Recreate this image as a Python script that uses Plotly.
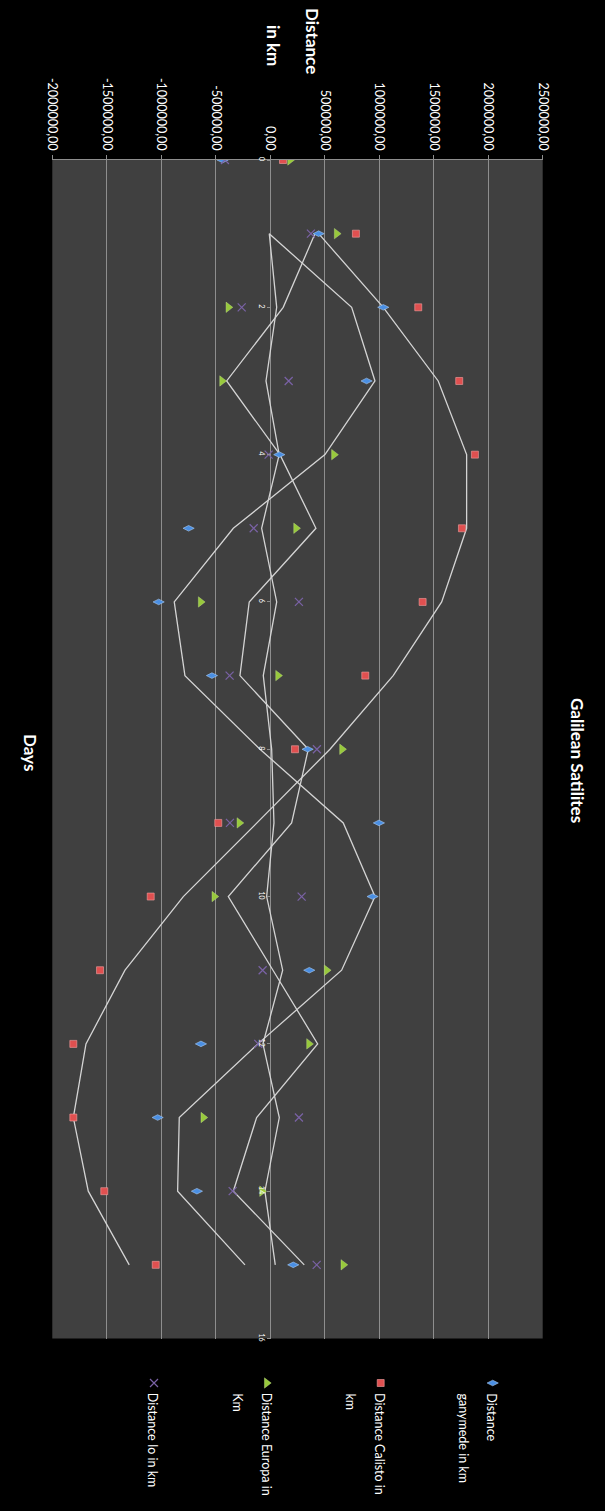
import plotly.graph_objects as go

# ---- data -------------------------------------------------------------
DAYS = list(range(16))
TRACE_DAYS = list(range(1, 16))

GANYMEDE = [-437000, 444000, 1037000, 884000, 83000, -749000, -1024000, -535000,
            343000, 997000, 939000, 358000, -636000, -1033000, -673000, 211000]
CALLISTO = [117000, 786000, 1358000, 1734000, 1878000, 1759000, 1398000, 872000,
            227000, -477000, -1097000, -1562000, -1807000, -1807000, -1523000, -1051000]
EUROPA = [181000, 609000, -385000, -443000, 584000, 236000, -639000, 71000,
          658000, -284000, -514000, 517000, 355000, -615000, -76000, 670000]
IO = [-416000, 373000, -262000, 169000, -15000, -152000, 263000, -373000,
      428000, -370000, 288000, -70000, -110000, 263000, -345000, 426000]

# connecting traces (white lines)
TRACE_A = [444000, 1037000, 1541000, 1802000, 1802000, 1573000, 1128000, 548000,
           -122000, -798000, -1333000, -1691000, -1807000, -1670000, -1294000]
TRACE_B = [-9000, 747000, 961000, 502000, -339000, -881000, -783000, -94000,
           670000, 961000, 655000, -113000, -835000, -850000, -232000]
TRACE_C = [410000, 119000, -400000, 89000, 419000, -193000, -278000, 349000,
           196000, -385000, 25000, 435000, -125000, -339000, 312000]
TRACE_D = [-9000, 59000, -39000, 82000, -79000, 59000, -64000, 13000,
           34000, -33000, 114000, -67000, 83000, -49000, 46000]

DIST_TICKS = [-2000000, -1500000, -1000000, -500000, 0, 500000, 1000000,
              1500000, 2000000, 2500000]
DIST_TICK_LABELS = ["-2000000,00", "-1500000,00", "-1000000,00", "-500000,00", "0,00",
                    "500000,00", "1000000,00", "1500000,00", "2000000,00", "2500000,00"]
DAY_TICKS = [0, 2, 4, 6, 8, 10, 12, 14, 16]

SERIES_NAMES = ["Distance ganymede in km", "Distance Calisto in km",
                "Distance Europa in Km", "Distance Io in km"]

# ---- page geometry (pixels) -------------------------------------------
W, H = 605, 1511
PX_L, PX_R, PX_T, PX_B = 52.3, 542.7, 160, 1338.5
ZERO_X = 270.3

FONT = "Lato"
BLUE, RED, GREEN, PURPLE = "#4a8fe3", "#e05050", "#98c93c", "#7a62a6"
LINE_COL = "#d4d4d4"
GRID_COL = "#8e8e8e"


def fx(px):
    return px / W


def fy(py):
    return 1 - py / H


fig = go.Figure()

# white connecting traces
for vals in (TRACE_A, TRACE_B, TRACE_C, TRACE_D):
    fig.add_trace(go.Scatter(x=vals, y=TRACE_DAYS, mode="lines",
                             line=dict(color=LINE_COL, width=1.3),
                             showlegend=False, hoverinfo="skip"))

# marker series
marker_specs = [
    (GANYMEDE, dict(symbol="diamond-wide", size=8, color=BLUE,
                    line=dict(color="#a8cbf5", width=0.6))),
    (CALLISTO, dict(symbol="square", size=7, color=RED,
                    line=dict(color="#f3a0a0", width=0.6))),
    (EUROPA, dict(symbol="triangle-right", size=9, color=GREEN,
                  line=dict(color="#c5e58a", width=0.4))),
    (IO, dict(symbol="x-thin-open", size=8, color=PURPLE,
              line=dict(color=PURPLE, width=1.2))),
]
for (vals, mk), name in zip(marker_specs, SERIES_NAMES):
    fig.add_trace(go.Scatter(x=vals, y=DAYS, mode="markers", marker=mk,
                             name=name, showlegend=False))

# legend key symbols on a full-page overlay axis
key_x = [492.7, 380.7, 266.7, 154.0]
key_y = 1383
for (vals, mk), kx in zip(marker_specs, key_x):
    fig.add_trace(go.Scatter(x=[kx], y=[key_y], mode="markers", marker=mk,
                             xaxis="x2", yaxis="y2", showlegend=False,
                             hoverinfo="skip"))

# plot area background
fig.add_shape(type="rect", xref="x domain", yref="y domain", x0=0, x1=1, y0=0, y1=1,
              fillcolor="#404040", line=dict(width=0), layer="below")

annotations = []


def vtext(text, px, py, size, bold=False, yanchor="middle"):
    annotations.append(dict(
        text=f"<b>{text}</b>" if bold else text,
        x=fx(px), y=fy(py), xref="paper", yref="paper",
        xanchor="center", yanchor=yanchor, textangle=90, showarrow=False,
        font=dict(family=FONT, size=size, color="white")))


vtext("Galilean Satilites", 578, 760, 17, bold=True)
vtext("Distance", 312, 41, 17, bold=True)
vtext("in km", 273, 45, 17, bold=True)
vtext("Days", 30, 752, 17, bold=True)

legend_lines = [
    ("Distance", 491.7), ("ganymede in km", 463),
    ("Distance Calisto in", 380), ("km", 350),
    ("Distance Europa in", 266.7), ("Km", 237.3),
    ("Distance Io in km", 152.7),
]
for txt, px in legend_lines:
    vtext(txt, px, 1391, 12.5, yanchor="top")

fig.update_layout(
    width=W, height=H,
    margin=dict(l=0, r=0, t=0, b=0),
    paper_bgcolor="black",
    plot_bgcolor="rgba(0,0,0,0)",
    showlegend=False,
    annotations=annotations,
    xaxis=dict(
        domain=[fx(PX_L), fx(PX_R)], range=[-2000000, 2500000], side="top",
        tickvals=DIST_TICKS, ticktext=DIST_TICK_LABELS, tickangle=90,
        tickfont=dict(family=FONT, size=12.5, color="white"),
        ticks="outside", ticklen=4, tickcolor=GRID_COL,
        showline=True, linecolor=GRID_COL, linewidth=1,
        showgrid=True, gridcolor=GRID_COL, gridwidth=1, zeroline=False,
        automargin=False,
    ),
    yaxis=dict(
        domain=[fy(PX_B), fy(PX_T)], range=[16, 0],
        anchor="free", position=fx(ZERO_X), side="left",
        tickvals=DAY_TICKS, tickangle=90,
        tickfont=dict(family=FONT, size=7, color="white"),
        ticks="outside", ticklen=3, tickcolor=GRID_COL,
        showgrid=False, showline=False, zeroline=False,
        automargin=False,
    ),
    xaxis2=dict(domain=[0, 1], range=[0, W], visible=False, anchor="y2"),
    yaxis2=dict(domain=[0, 1], range=[H, 0], visible=False, anchor="x2"),
)

fig.write_html(
    "out.html",
    post_script="document.body.style.margin='0';document.body.style.overflow='hidden';",
)
